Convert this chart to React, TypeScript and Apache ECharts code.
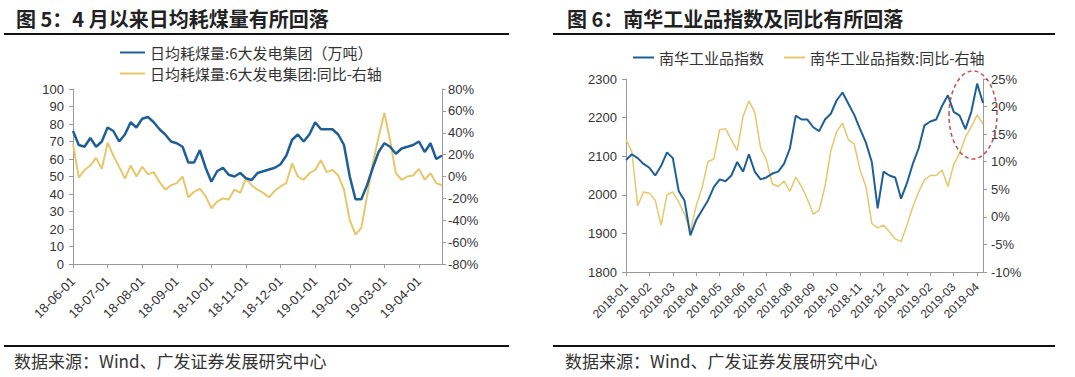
import React, { useEffect, useRef } from "react";
import * as echarts from "echarts";

// ---------- Figure 5: daily coal consumption of 6 power groups ----------
const coalMonths = ["18-06", "18-07", "18-08", "18-09", "18-10", "18-11", "18-12", "19-01", "19-02", "19-03", "19-04"];
const coalDays = ["01", "06", "11", "16", "21", "26"];
// 万吨
const coalDaily = [
  76, 68, 67, 72, 67, 70,
  78, 76, 70, 74, 81, 78,
  83, 84, 81, 77, 74, 70,
  69, 67, 58, 58, 65, 55,
  47, 53, 55, 51, 50, 52,
  49, 48, 52, 53, 54, 55,
  57, 62, 71, 74, 70, 74,
  81, 77, 77, 77, 74, 68,
  50, 37, 37, 45, 55, 64,
  69, 67, 63, 66, 67, 68,
  70, 64, 69, 60, 62,
];
// %
const coalYoY = [
  30, -1, 6, 10, 17, 7,
  31, 19, 9, -2, 10, 0,
  9, 2, 4, -5, -12, -8,
  -6, 0, -19, -14, -11, -18,
  -29, -23, -20, -21, -12, -15,
  -2, -8, -12, -15, -19, -13,
  -9, -6, 12, 0, -3, 3,
  6, 15, 4, 6, 1, -12,
  -40, -53, -47, -18, 12, 36,
  58, 33, 3, -3, 0, 1,
  7, -3, 3, -6, -8,
];
const coalLeftTicks = { min: 0, max: 100, interval: 10 };
const coalRightTicks = { min: -80, max: 80, interval: 20 };

// ---------- Figure 6: Nanhua industrial index ----------
const nhMonths = [
  "2018-01", "2018-02", "2018-03", "2018-04", "2018-05", "2018-06", "2018-07", "2018-08",
  "2018-09", "2018-10", "2018-11", "2018-12", "2019-01", "2019-02", "2019-03", "2019-04",
];
const nhDays = ["01", "08", "15", "22"];
const nhIndex = [
  2090, 2105, 2095, 2080,
  2070, 2050, 2075, 2110,
  2095, 2010, 1985, 1895,
  1935, 1960, 1985, 2020,
  2040, 2035, 2050, 2085,
  2060, 2105, 2060, 2040,
  2045, 2055, 2060, 2080,
  2120, 2205, 2195, 2195,
  2175, 2165, 2195, 2210,
  2245, 2265, 2236, 2207,
  2170, 2135, 2085, 1965,
  2060, 2050, 2045, 1990,
  2030, 2080, 2120, 2180,
  2190, 2195, 2230, 2258,
  2215, 2205, 2170, 2215,
  2288, 2238,
];
const nhYoY = [
  14, 11.8, 2, 4.5,
  4.3, 3, -1.5, 4,
  4.5, 2.7, 0.5, -2.6,
  2, 5.3, 10, 10.5,
  15.8, 16, 14, 12,
  18.2, 21, 19, 12.5,
  10.3, 6, 5.5, 6.5,
  4.6, 7.2, 5.5, 3.2,
  0.5, 1.2, 5.5, 12,
  15.5, 17, 14, 13.2,
  8.5, 5.5, -1.2, -2,
  -1.5, -2.7, -4, -4.5,
  -1.5, 1.8, 4.5, 6.7,
  7.5, 7.5, 8.5, 5.5,
  9.5, 11.5, 14.5, 16.3,
  18.5, 16.8,
];
const nhLeftTicks = { min: 1800, max: 2300, interval: 100 };
const nhRightTicks = { min: -10, max: 25, interval: 5 };

const coalSeriesNames = ["日均耗煤量:6大发电集团（万吨）", "日均耗煤量:6大发电集团:同比-右轴"];
const nhSeriesNames = ["南华工业品指数", "南华工业品指数:同比-右轴"];
const titles = ["图 5：4 月以来日均耗煤量有所回落", "图 6：南华工业品指数及同比有所回落"];
const sourceText = "数据来源：Wind、广发证券发展研究中心";

function buildCategories(months: string[], days: string[], count: number): string[] {
  const out: string[] = [];
  for (const m of months) {
    for (const d of days) {
      if (out.length < count) out.push(`${m}-${d}`);
    }
  }
  return out;
}

const BLUE = "#1f5f96";
const YELLOW = "#e6c76a";
const AXIS = "#9a9a9a";
const LABEL = "#333";
const LATIN = "'Liberation Sans', Arial, sans-serif";
const CJK = "'Noto Sans CJK SC', 'Noto Sans', sans-serif";

export default function App() {
  const ref = useRef<HTMLDivElement>(null);

  useEffect(() => {
    if (!ref.current) return;
    const chart = echarts.init(ref.current, undefined, { renderer: "svg" });

    const coalCats = buildCategories(coalMonths, coalDays, coalDaily.length);
    const nhCats = buildCategories(nhMonths, nhDays, nhIndex.length);
    const isMonthStart = (_i: number, v: string) => v.endsWith("-01");

    const yAxisBase = (gridIndex: number, ticks: any, position: "left" | "right", pct: boolean, margin: number) => ({
      type: "value",
      gridIndex,
      position,
      min: ticks.min,
      max: ticks.max,
      interval: ticks.interval,
      splitLine: { show: false },
      axisLine: { show: true, onZero: false, lineStyle: { color: AXIS, width: 1 } },
      axisTick: { show: true, length: 4, lineStyle: { color: AXIS } },
      axisLabel: {
        color: LABEL,
        fontSize: 13,
        fontFamily: LATIN,
        margin,
        formatter: (v: number) => (pct ? `${v}%` : String(v)),
      },
    });

    const xAxisBase = (gridIndex: number, cats: string[], fmt: (v: string) => string, size: number, margin: number) => ({
      type: "category",
      gridIndex,
      data: cats,
      boundaryGap: false,
      axisLine: { show: true, onZero: false, lineStyle: { color: AXIS, width: 1 } },
      axisTick: { show: true, length: 4, interval: isMonthStart, lineStyle: { color: AXIS } },
      axisLabel: {
        interval: isMonthStart,
        rotate: 45,
        color: LABEL,
        fontSize: size,
        fontFamily: LATIN,
        margin,
        formatter: fmt,
      },
      splitLine: { show: false },
    });

    const textEl = (x: number, y: number, text: string, size: number, bold: boolean, fill: string) => ({
      type: "text",
      x,
      y,
      z: 10,
      style: {
        text,
        fontSize: size,
        fontWeight: bold ? "bold" : "normal",
        fontFamily: CJK,
        fill,
        verticalAlign: "middle",
        align: "left",
      },
    });

    const lineEl = (x1: number, x2: number, y: number, w: number) => ({
      type: "line",
      z: 10,
      shape: { x1, y1: y, x2, y2: y },
      style: { stroke: "#111", lineWidth: w },
    });

    chart.setOption({
      animation: false,
      backgroundColor: "#fff",
      grid: [
        { left: 73, top: 89, width: 369, height: 175 },
        { left: 626, top: 79, width: 357, height: 193 },
      ],
      legend: [
        {
          data: coalSeriesNames,
          orient: "vertical",
          left: 115,
          top: 40,
          itemGap: 6,
          itemWidth: 25,
          itemHeight: 2,
          icon: "rect",
          textStyle: { fontSize: 15, color: LABEL, fontFamily: CJK },
        },
        {
          data: nhSeriesNames,
          orient: "horizontal",
          left: 628,
          top: 45,
          itemGap: 20,
          itemWidth: 21,
          itemHeight: 2,
          icon: "rect",
          textStyle: { fontSize: 15, color: LABEL, fontFamily: CJK },
        },
      ],
      xAxis: [
        xAxisBase(0, coalCats, (v: string) => v, 13, 15),
        xAxisBase(1, nhCats, (v: string) => v.slice(0, 7), 12, 13),
      ],
      yAxis: [
        yAxisBase(0, coalLeftTicks, "left", false, 9),
        yAxisBase(0, coalRightTicks, "right", true, 6),
        yAxisBase(1, nhLeftTicks, "left", false, 9),
        yAxisBase(1, nhRightTicks, "right", true, 8),
      ],
      series: [
        {
          name: coalSeriesNames[0],
          type: "line",
          xAxisIndex: 0,
          yAxisIndex: 0,
          data: coalDaily,
          showSymbol: false,
          z: 3,
          itemStyle: { color: BLUE },
          lineStyle: { color: BLUE, width: 2.5 },
        },
        {
          name: coalSeriesNames[1],
          type: "line",
          xAxisIndex: 0,
          yAxisIndex: 1,
          data: coalYoY,
          showSymbol: false,
          z: 2,
          itemStyle: { color: YELLOW },
          lineStyle: { color: YELLOW, width: 2 },
        },
        {
          name: nhSeriesNames[0],
          type: "line",
          xAxisIndex: 1,
          yAxisIndex: 2,
          data: nhIndex,
          showSymbol: false,
          z: 3,
          itemStyle: { color: BLUE },
          lineStyle: { color: BLUE, width: 2 },
        },
        {
          name: nhSeriesNames[1],
          type: "line",
          xAxisIndex: 1,
          yAxisIndex: 3,
          data: nhYoY,
          showSymbol: false,
          z: 2,
          itemStyle: { color: YELLOW },
          lineStyle: { color: YELLOW, width: 1.5 },
        },
      ],
      graphic: [
        textEl(16, 18, titles[0], 20, true, "#222"),
        textEl(567, 18, titles[1], 20, true, "#222"),
        lineEl(4, 509, 34, 2),
        lineEl(553, 1055, 34, 2),
        lineEl(4, 509, 346, 2),
        lineEl(553, 1055, 346, 2),
        textEl(14, 360, sourceText, 17, false, "#333"),
        textEl(565, 360, sourceText, 17, false, "#333"),
        {
          type: "ellipse",
          z: 20,
          shape: { cx: 973, cy: 115, rx: 24, ry: 44 },
          style: { fill: "none", stroke: "#c0504d", lineWidth: 1.5, lineDash: [4, 3] },
        },
      ],
    });

    return () => chart.dispose();
  }, []);

  return (
    <div
      ref={ref}
      style={{ position: "absolute", left: 0, top: 0, width: 1075, height: 377, background: "#fff" }}
    />
  );
}
